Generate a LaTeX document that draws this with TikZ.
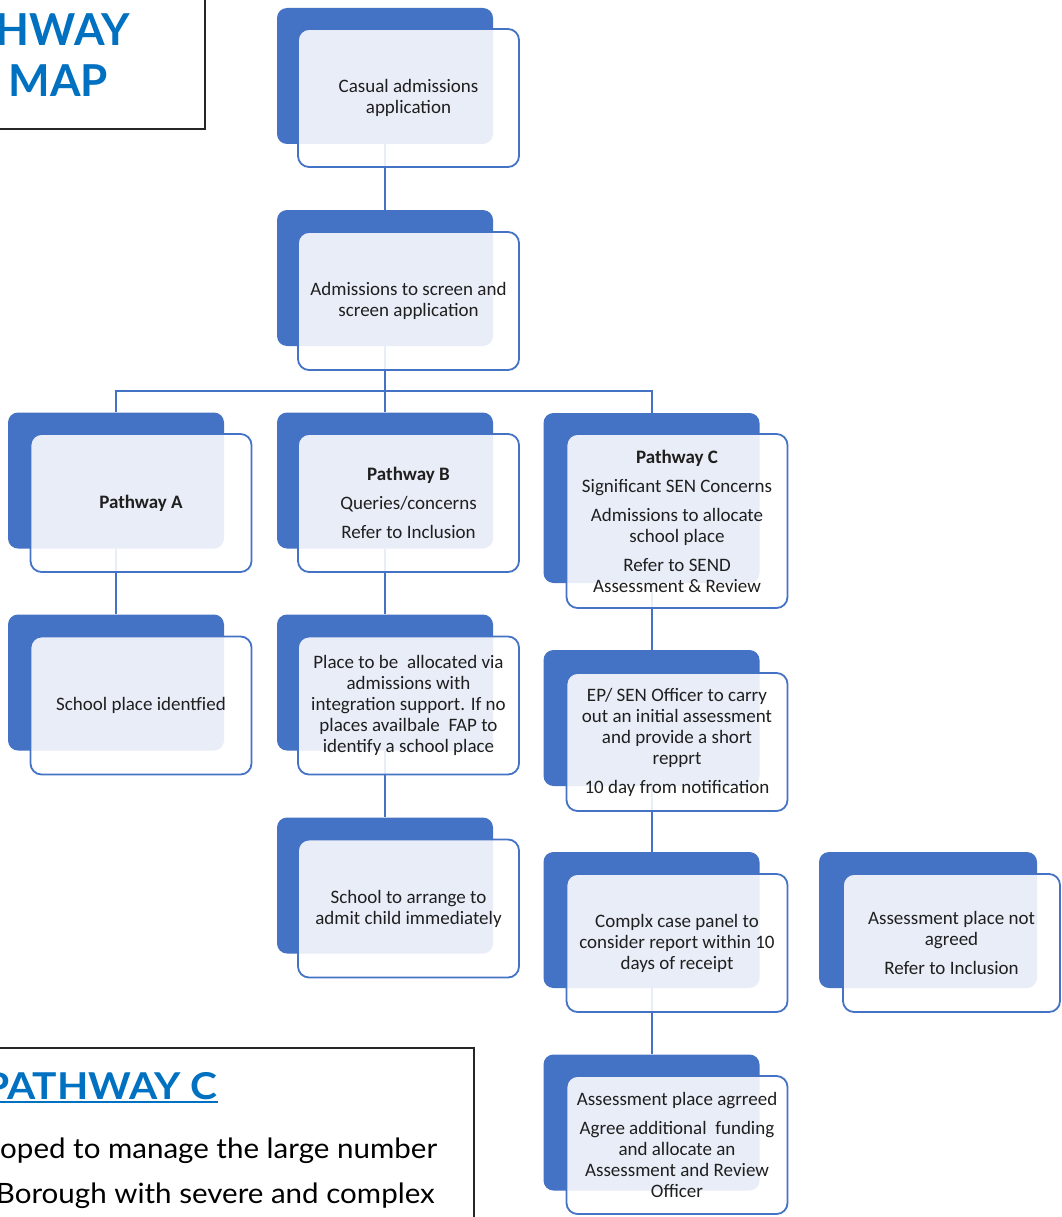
\documentclass[tikz,border=0pt]{standalone}
\usepackage{fontspec}
\setmainfont{Carlito}
\newfontfamily\gill{Lato}
\newfontfamily\gillw[FakeStretch=1.1]{Lato}
\newfontfamily\gillb[FakeStretch=1.055]{Lato}
\definecolor{acc}{HTML}{4472C4}
\definecolor{ttl}{HTML}{0070C0}
\definecolor{txt}{HTML}{1F1F1F}
\tikzset{
  backbox/.style={fill=acc, draw=none, rounded corners=10pt, minimum width=216pt, minimum height=136pt, inner sep=0pt},
  frontbox/.style={fill=white, fill opacity=0.88, text opacity=1, draw=acc, line width=1.8pt, rounded corners=11pt, minimum width=221pt, minimum height=138pt, inner sep=2pt, align=center, font=\fontsize{19}{21}\selectfont, text=txt},
  conn/.style={draw=acc, line width=2pt},
}
\begin{document}
\begin{tikzpicture}[x=1pt,y=-1pt]
\useasboundingbox (0,0) rectangle (1061,1217);
\coordinate (bar) at (385,391);
% back boxes
\node[backbox] (b1) at (385,76) {};
\node[backbox] (b2) at (385,278) {};
\node[backbox] (bA) at (116,480.5) {};
\node[backbox] (bB) at (385,480.5) {};
\node[backbox, minimum height=170pt] (bC) at (651.5,498) {};
\node[backbox] (bA2) at (116,682.5) {};
\node[backbox] (bB2) at (385,682.5) {};
\node[backbox] (bB3) at (385,885.5) {};
\node[backbox] (bC2) at (651.5,718) {};
\node[backbox] (bC3) at (651.5,920) {};
\node[backbox] (bC4) at (651.5,1122.5) {};
\node[backbox, minimum width=218pt] (bD) at (928,920) {};
% connectors
\draw[conn] (b1.south) -- (b2.north);
\draw[conn] (b2.south) -- (bar);
\draw[conn] (bA.north) |- (bar) -| (bC.north);
\draw[conn] (bar) -- (bB.north);
\draw[conn] (bA.south) -- (bA2.north);
\draw[conn] (bB.south) -- (bB2.north);
\draw[conn] (bB2.south) -- (bB3.north);
\draw[conn] (bC.south) -- (bC2.north);
\draw[conn] (bC2.south) -- (bC3.north);
\draw[conn] (bC3.south) -- (bC4.north);
% front boxes
\node[frontbox] (f1) at (408.5,98) {Casual admissions\\application};
\node[frontbox] (f2) at (408.5,301) {Admissions to screen and\\screen application};
\node[frontbox] (fA) at (141,503) {\textbf{Pathway A}};
\node[frontbox] (fB) at (408.5,503) {\textbf{Pathway B}\\[8pt]Queries/concerns\\[8pt]Refer to Inclusion};
\node[frontbox, minimum height=174pt] (fC) at (677,521) {\textbf{Pathway C}\\[8pt]Significant SEN Concerns\\[8pt]Admissions to allocate\\school place\\[8pt]Refer to SEND\\Assessment \& Review};
\node[frontbox] (fA2) at (141,705.5) {School place identfied};
\node[frontbox] (fB2) at (408.5,705.5) {Place to be~ allocated via\\admissions with\\integration support. If no\\places availbale~ FAP to\\identify a school place};
\node[frontbox] (fB3) at (408.5,908.5) {School to arrange to\\admit child immediately};
\node[frontbox] (fC2) at (677,742) {EP/ SEN Officer to carry\\out an initial assessment\\and provide a short\\repprt\\[8pt]10 day from notification};
\node[frontbox] (fC3) at (677,943) {Complx case panel to\\consider report within 10\\days of receipt};
\node[frontbox] (fC4) at (677,1145) {Assessment place agrreed\\[8pt]Agree additional~ funding\\and allocate an\\Assessment and Review\\Officer};
\node[frontbox, minimum width=217pt] (fD) at (951.5,943) {Assessment place not\\agreed\\[8pt]Refer to Inclusion};
% title box
\draw[line width=2pt, draw=black!85] (-5,-5) rectangle (205,129);
\node[anchor=base east, inner sep=0pt, font=\gill\bfseries\fontsize{44}{44}\selectfont, text=ttl] (t1) at (130,46) {HWAY};
\node[anchor=base east, inner sep=0pt, font=\gill\bfseries\fontsize{44}{44}\selectfont, text=ttl] (t2) at (108,97) {MAP};
% bottom-left box
\draw[line width=1.6pt, draw=black!85] (-5,1048) rectangle (474,1230);
\node[anchor=base east, inner sep=0pt, font=\gillw\bfseries\fontsize{37}{37}\selectfont, text=ttl] (pc) at (218,1099) {PATHWAY C};
\draw[ttl, line width=2pt] ([yshift=-3pt]pc.base west) -- ([yshift=-3pt]pc.base east);
\node[anchor=base west, inner sep=0pt, font=\gillb\fontsize{28}{28}\selectfont] (l1) at (0,1158) {oped to manage the large number};
\node[anchor=base east, inner sep=0pt, font=\gillb\fontsize{28}{28}\selectfont] (l2) at (435,1203) {Borough with severe and complex};
\end{tikzpicture}
\end{document}
